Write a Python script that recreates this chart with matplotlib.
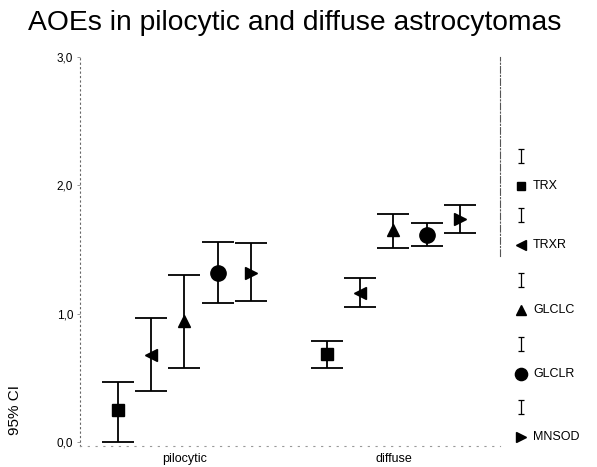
import matplotlib.pyplot as plt
import numpy as np

# Data
groups = ['pilocytic', 'diffuse']
series = ['TRX', 'TRXR', 'GLCLC', 'GLCLR', 'MNSOD']
markers = ['s', '<', '^', 'o', '>']
msizes = [8, 9, 9, 11, 9]

mean_pilo = [0.25, 0.68, 0.94, 1.32, 1.32]
low_pilo = [0.00, 0.40, 0.58, 1.08, 1.10]
high_pilo = [0.47, 0.97, 1.30, 1.56, 1.55]

mean_diff = [0.69, 1.16, 1.65, 1.61, 1.74]
low_diff = [0.58, 1.05, 1.51, 1.53, 1.63]
high_diff = [0.79, 1.28, 1.78, 1.71, 1.85]

yticks = [0.0, 1.0, 2.0, 3.0]
ytick_labels = ['0,0', '1,0', '2,0', '3,0']

plt.rcParams['font.family'] = ['Liberation Sans', 'DejaVu Sans']

fig = plt.figure(figsize=(5.97, 4.67), dpi=100)
ax = fig.add_axes([80/597, 21/467, 420/597, 389/467])

means = np.array([mean_pilo, mean_diff])
lows = np.array([low_pilo, low_diff])
highs = np.array([high_pilo, high_diff])
centers = np.arange(1, len(groups) + 1)
offset = 0.16

for i, name in enumerate(series):
    x = centers + (i - 2) * offset
    m = means[:, i]
    yerr = [m - lows[:, i], highs[:, i] - m]
    ax.errorbar(x, m, yerr=yerr, fmt='none', ecolor='black', elinewidth=1.3,
                capsize=11.5, capthick=1.3)
    ax.plot(x, m, linestyle='none', marker=markers[i], markersize=msizes[i],
            color='black', zorder=3)

ax.set_xlim(0.5, 2.51)
ax.set_ylim(-0.03, 3.0)
ax.set_xticks(centers)
ax.set_xticklabels(groups, fontsize=9)
ax.set_yticks(yticks)
ax.set_yticklabels(ytick_labels, fontsize=8.5)
ax.tick_params(axis='x', length=0, pad=5)
ax.tick_params(axis='y', length=2, width=0.6, color='#888888', pad=3)

ax.spines['top'].set_visible(False)
ax.spines['left'].set_linestyle((0, (1, 3)))
ax.spines['left'].set_color('#666666')
ax.spines['left'].set_linewidth(0.8)
ax.spines['bottom'].set_linestyle((0, (1, 6)))
ax.spines['bottom'].set_color('#999999')
ax.spines['bottom'].set_linewidth(0.8)
ax.spines['right'].set_bounds(1.45, 3.0)
ax.spines['right'].set_linestyle((0, (6, 2, 1, 2)))
ax.spines['right'].set_color('#555555')
ax.spines['right'].set_linewidth(0.8)

ax.set_ylabel('95% CI', fontsize=11)
ax.yaxis.set_label_coords(-0.138, 0.093)

fig.text(28/597, 1 - 23/467, 'AOEs in pilocytic and diffuse astrocytomas',
         fontsize=20.3, va='center', ha='left')

# legend drawn in a pixel-space overlay
lax = fig.add_axes([0, 0, 1, 1], zorder=-1)
lax.set_xlim(0, 597)
lax.set_ylim(467, 0)
lax.axis('off')
leg_y = [186, 245, 310, 374, 437]
for i, name in enumerate(series):
    yb = leg_y[i] - 30
    lax.errorbar([521], [yb], yerr=[7], fmt='none', ecolor='black',
                 elinewidth=0.9, capsize=2.5, capthick=0.9)
    lax.plot([521], [leg_y[i]], linestyle='none', marker=markers[i],
             markersize=msizes[i] * 0.8, color='black')
    lax.text(533, leg_y[i], name, fontsize=9, va='center', ha='left')

fig.savefig('out.png', dpi=100)
